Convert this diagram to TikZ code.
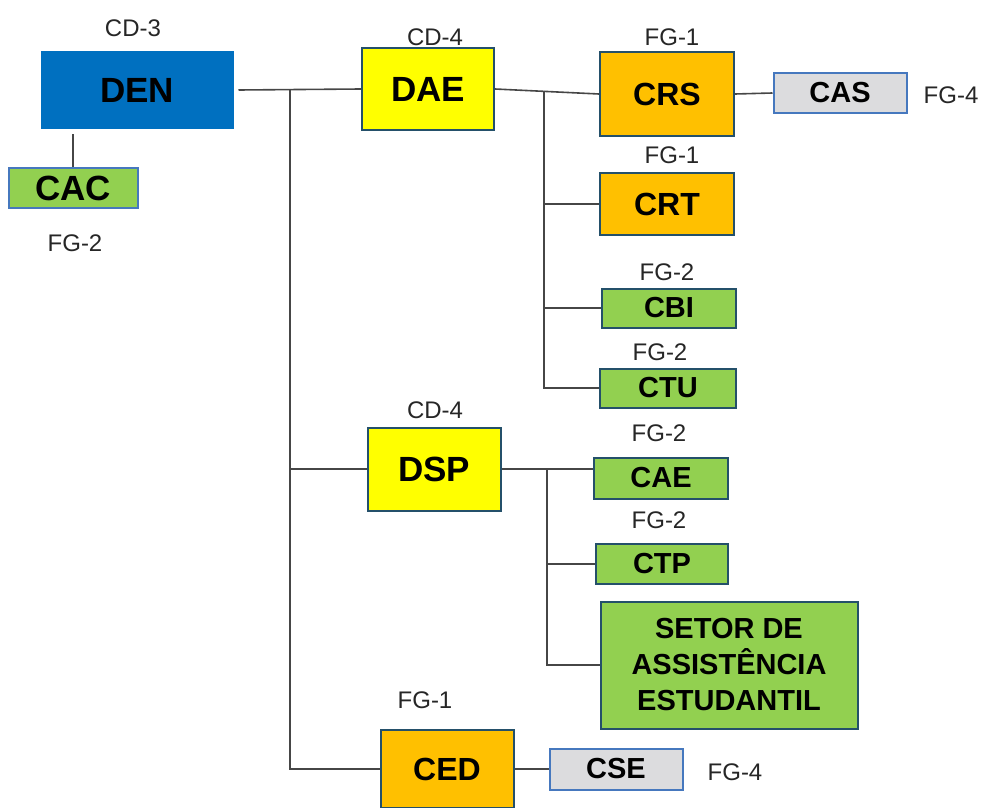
\documentclass[tikz,border=0pt]{standalone}
\usepackage{fontspec}
\setmainfont{Liberation Sans}
\usetikzlibrary{shadows}
\definecolor{denblue}{RGB}{0,112,192}
\definecolor{yel}{RGB}{255,255,0}
\definecolor{orng}{RGB}{255,192,0}
\definecolor{grn}{RGB}{146,208,80}
\definecolor{gry}{RGB}{220,220,222}
\definecolor{edge}{RGB}{36,80,106}
\definecolor{casedge}{RGB}{70,120,190}
\definecolor{wire}{RGB}{70,70,70}
\tikzset{
  box/.style={draw=edge, line width=2pt, inner sep=0pt, align=center, font=\bfseries},
  bigtxt/.style={font=\fontsize{35}{37}\selectfont\bfseries},
  midtxt/.style={font=\fontsize{32}{34}\selectfont\bfseries},
  smalltxt/.style={font=\fontsize{29}{31}\selectfont\bfseries},
  lbl/.style={font=\fontsize{24}{26}\selectfont, text=black!85},
  wirestyle/.style={draw=wire, line width=1.6pt},
}
\begin{document}
\begin{tikzpicture}[x=1pt,y=-1pt]
\useasboundingbox (0,0) rectangle (989,808);
% nodes
\node[box, draw=white, line width=5pt, fill=denblue, drop shadow={opacity=0.3, shadow xshift=2pt, shadow yshift=-3pt}, bigtxt, minimum width=198, minimum height=82] (DEN) at (137,90) {DEN};
\node[lbl] (lDEN) at (133,28) {CD-3};
\node[box, draw=casedge, fill=grn, bigtxt, minimum width=129, minimum height=40] (CAC) at (73,188) {CAC};
\node[lbl] (lCAC) at (75,243) {FG-2};

\node[box, fill=yel, bigtxt, minimum width=132, minimum height=82] (DAE) at (428,89) {DAE};
\node[lbl] (lDAE) at (435,37) {CD-4};
\node[box, fill=orng, midtxt, minimum width=134, minimum height=83] (CRS) at (667,94) {CRS};
\node[lbl] (lCRS) at (672,37) {FG-1};
\node[box, draw=casedge, fill=gry, smalltxt, minimum width=133, minimum height=40] (CAS) at (840,93) {CAS};
\node[lbl] (lCAS) at (951,95) {FG-4};
\node[box, fill=orng, midtxt, minimum width=134, minimum height=62] (CRT) at (667,204) {CRT};
\node[lbl] (lCRT) at (672,155) {FG-1};
\node[box, fill=grn, smalltxt, minimum width=134, minimum height=39] (CBI) at (669,308) {CBI};
\node[lbl] (lCBI) at (667,272) {FG-2};
\node[box, fill=grn, smalltxt, minimum width=136, minimum height=39] (CTU) at (668,388) {CTU};
\node[lbl] (lCTU) at (660,352) {FG-2};

\node[box, fill=yel, bigtxt, minimum width=133, minimum height=83] (DSP) at (434,469) {DSP};
\node[lbl] (lDSP) at (435,410) {CD-4};
\node[box, fill=grn, smalltxt, minimum width=134, minimum height=41] (CAE) at (661,478) {CAE};
\node[lbl] (lCAE) at (659,433) {FG-2};
\node[box, fill=grn, smalltxt, minimum width=132, minimum height=40] (CTP) at (662,564) {CTP};
\node[lbl] (lCTP) at (659,520) {FG-2};
\node[box, fill=grn, font=\fontsize{29}{36}\selectfont\bfseries, minimum width=257, minimum height=127] (SETOR) at (729,665) {SETOR DE\\ASSISTÊNCIA\\ESTUDANTIL};

\node[box, fill=orng, midtxt, minimum width=133, minimum height=78] (CED) at (447,769) {CED};
\node[lbl] (lCED) at (425,700) {FG-1};
\node[box, draw=casedge, fill=gry, smalltxt, minimum width=133, minimum height=41] (CSE) at (616,769) {CSE};
\node[lbl] (lCSE) at (735,772) {FG-4};

% junctions
\coordinate (j1) at (290,90);
\coordinate (j2) at (544,91);
\coordinate (j3) at (547,469);

% connectors
\draw[wirestyle] (CAC.north) -- (CAC.north |- DEN.south);
\draw[wirestyle] (DEN.east) -- (DAE.west);
\draw[wirestyle] (j1) |- (DSP.west);
\draw[wirestyle] (j1) |- (CED.west);
\draw[wirestyle] (DAE.east) -- (CRS.west);
\draw[wirestyle] (CRS.east) -- (CAS.west);
\draw[wirestyle] (j2) |- (CRT.west);
\draw[wirestyle] (j2) |- (CBI.west);
\draw[wirestyle] (j2) |- (CTU.west);
\draw[wirestyle] (DSP.east) -- (DSP.east -| CAE.west);
\draw[wirestyle] (j3) |- (CTP.west);
\draw[wirestyle] (j3) |- (SETOR.west);
\draw[wirestyle] (CED.east) -- (CSE.west);
\end{tikzpicture}
\end{document}
